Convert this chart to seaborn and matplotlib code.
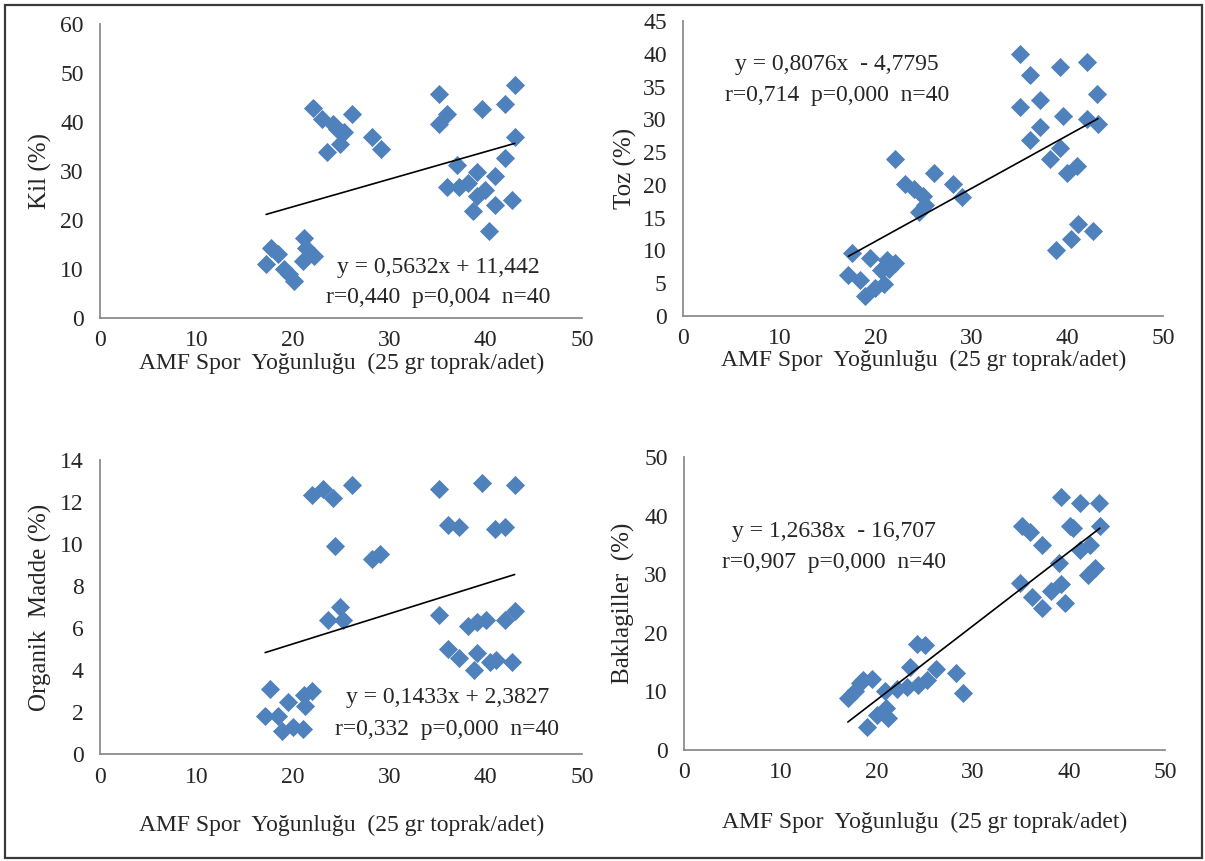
import numpy as np
import pandas as pd
import matplotlib
matplotlib.use('Agg')
import matplotlib.pyplot as plt
from matplotlib.patches import Rectangle
import seaborn as sns

# AMF spore density vs soil properties (40 samples per panel)
kil_x = [43.0, 35.1, 42.0, 39.6, 22.1, 26.1, 36.0, 23.0, 24.1, 35.1,
         24.6, 25.3, 24.9, 28.2, 29.1, 23.5, 43.0, 42.0, 37.0, 39.1,
         41.0, 36.0, 37.2, 38.2, 39.9, 39.1, 42.7, 41.0, 38.7, 40.3,
         17.7, 21.1, 18.4, 21.3, 22.2, 21.0, 17.2, 19.1, 19.6, 20.1]
kil_y = [47.7, 45.8, 43.7, 42.7, 42.9, 41.7, 41.7, 40.7, 39.7, 39.7,
         38.7, 38.0, 35.6, 37.0, 34.6, 33.9, 37.0, 32.6, 31.2, 29.9,
         28.9, 26.8, 26.8, 27.5, 26.2, 24.8, 24.1, 23.1, 21.8, 17.7,
         14.3, 16.4, 13.0, 14.3, 12.6, 11.6, 11.0, 9.9, 8.9, 7.6]

toz_x = [35.1, 42.0, 39.2, 36.1, 43.1, 37.2, 35.1, 39.5, 42.1, 43.2,
         37.2, 36.1, 39.2, 38.2, 41.0, 40.0, 22.1, 26.1, 23.1, 24.0,
         28.1, 25.0, 29.0, 25.2, 24.5, 41.1, 42.7, 40.4, 38.8, 17.6,
         19.4, 21.2, 22.1, 21.4, 17.2, 18.4, 20.9, 20.0, 18.9, 20.6]
toz_y = [39.9, 38.8, 38.0, 36.7, 33.9, 32.9, 31.9, 30.5, 30.1, 29.3,
         28.8, 26.8, 25.7, 23.9, 22.9, 21.8, 23.9, 21.8, 20.1, 19.3,
         20.1, 18.3, 18.1, 17.0, 15.8, 14.0, 13.0, 11.7, 10.0, 9.6,
         8.9, 8.6, 8.1, 7.2, 6.2, 5.5, 4.9, 4.2, 3.0, 7.0]

om_x = [26.1, 39.6, 43.0, 35.1, 23.1, 22.0, 24.1, 36.1, 37.2, 41.0,
        42.0, 24.4, 28.2, 29.0, 24.9, 23.6, 25.2, 35.1, 43.0, 42.0,
        38.2, 39.1, 40.0, 36.1, 37.2, 39.1, 40.4, 41.1, 42.7, 38.8,
        17.6, 22.0, 21.1, 19.5, 21.2, 17.1, 18.4, 20.0, 18.9, 21.0]
om_y = [12.8, 12.9, 12.8, 12.6, 12.6, 12.3, 12.2, 10.9, 10.8, 10.7,
        10.8, 9.9, 9.3, 9.5, 7.0, 6.4, 6.4, 6.6, 6.8, 6.4,
        6.1, 6.3, 6.4, 5.0, 4.6, 4.8, 4.4, 4.5, 4.4, 4.0,
        3.1, 3.0, 2.8, 2.5, 2.3, 1.8, 1.8, 1.3, 1.1, 1.2]

bak_x = [39.2, 41.1, 43.1, 35.1, 35.9, 40.1, 40.4, 43.2, 37.2, 42.2,
         41.1, 38.9, 42.7, 42.0, 34.9, 39.2, 38.1, 36.1, 39.6, 37.2,
         24.2, 25.0, 23.5, 26.2, 28.2, 19.5, 18.3, 25.2, 24.3, 23.1,
         22.1, 20.9, 29.0, 17.7, 17.0, 21.0, 20.0, 21.2, 19.0, 18.6]
bak_y = [43.2, 42.2, 42.2, 38.3, 37.3, 38.3, 37.9, 38.3, 35.0, 35.0,
         34.2, 31.9, 31.1, 29.9, 28.5, 28.4, 27.1, 26.2, 25.1, 24.2,
         18.1, 17.9, 14.1, 13.8, 13.1, 12.1, 11.4, 12.0, 11.1, 10.8,
         10.4, 10.1, 9.8, 10.0, 8.8, 7.1, 6.0, 5.4, 4.0, 11.9]

y_labels = ['Kil (%)', 'Toz (%)', 'Organik  Madde (%)', 'Baklagiller  (%)']
y_max = [60, 45, 14, 50]
y_step = [10, 5, 2, 10]
slopes = [0.5632, 0.8076, 0.1433, 1.2638]
intercepts = [11.442, -4.7795, 2.3827, -16.707]
eq_texts = ['y = 0,5632x + 11,442', 'y = 0,8076x  - 4,7795',
            'y = 0,1433x + 2,3827', 'y = 1,2638x  - 16,707']
stat_texts = ['r=0,440  p=0,004  n=40', 'r=0,714  p=0,000  n=40',
              'r=0,332  p=0,000  n=40', 'r=0,907  p=0,000  n=40']
x_label = 'AMF Spor  Yoğunluğu  (25 gr toprak/adet)'

sns.set_style('white')
plt.rcParams['font.family'] = ['Liberation Serif', 'DejaVu Serif']

W, H = 1205, 861
fig = plt.figure(figsize=(W / 100, H / 100), dpi=100)

# panel boxes in pixels: left, right, top, bottom
boxes = [(100.4, 582.1, 24.4, 317.7), (683.3, 1163.3, 21, 316),
         (100.4, 582.1, 459.7, 754.3), (684.3, 1165.3, 457.3, 750)]
ylab_x = [40, 625, 40, 623]
xlab_y = [363, 360, 825, 822]
# text anchors in data coordinates (x, y eq line, y stat line)
txt_pos = [(35.1, 10.2, 4.2), (16.0, 38.3, 33.7),
           (36.0, 2.68, 1.2), (15.6, 37.3, 32.1)]

xs = [kil_x, toz_x, om_x, bak_x]
ys = [kil_y, toz_y, om_y, bak_y]

for i in range(4):
    l, r, t, b = boxes[i]
    ax = fig.add_axes([l / W, 1 - b / H, (r - l) / W, (b - t) / H])
    df = pd.DataFrame({'x': xs[i], 'y': ys[i]})
    sns.scatterplot(data=df, x='x', y='y', marker='D', s=95, color='#4F81BD',
                    linewidth=0, ax=ax, zorder=3)
    line_x = np.array([df['x'].min(), df['x'].max()])
    line_df = pd.DataFrame({'x': line_x, 'y': slopes[i] * line_x + intercepts[i]})
    sns.lineplot(data=line_df, x='x', y='y', color='black', linewidth=1.2, ax=ax, zorder=4)

    ax.set_xlim(0, 50)
    ax.set_ylim(0, y_max[i])
    ax.set_xticks(range(0, 51, 10))
    ax.set_yticks(range(0, y_max[i] + 1, y_step[i]))
    ax.set_facecolor('white')
    for side in ['top', 'right']:
        ax.spines[side].set_visible(False)
    for side in ['left', 'bottom']:
        ax.spines[side].set_color('#8C8C8C')
        ax.spines[side].set_linewidth(1.3)
    ax.tick_params(axis='both', which='both', direction='out', length=5,
                   width=1.2, color='#8C8C8C', labelsize=17, pad=4)
    ax.tick_params(axis='y', pad=7)

    ax.set_xlabel(x_label, fontsize=17)
    ax.set_ylabel(y_labels[i], fontsize=18)
    ax.xaxis.label.set_va('center')
    ax.yaxis.label.set_va('center')
    ax.xaxis.set_label_coords(0.5, -(xlab_y[i] - b) / (b - t))
    ax.yaxis.set_label_coords((ylab_x[i] - l) / (r - l), 0.5)

    tx, ty1, ty2 = txt_pos[i]
    ax.text(tx, ty1, eq_texts[i], ha='center', va='center', fontsize=17)
    ax.text(tx, ty2, stat_texts[i], ha='center', va='center', fontsize=17)

fig.add_artist(Rectangle((5 / W, 3 / H), 1197 / W, 853 / H, transform=fig.transFigure,
                         fill=False, edgecolor='#3A3A3A', linewidth=1.6))

fig.savefig('out.png', dpi=100)
